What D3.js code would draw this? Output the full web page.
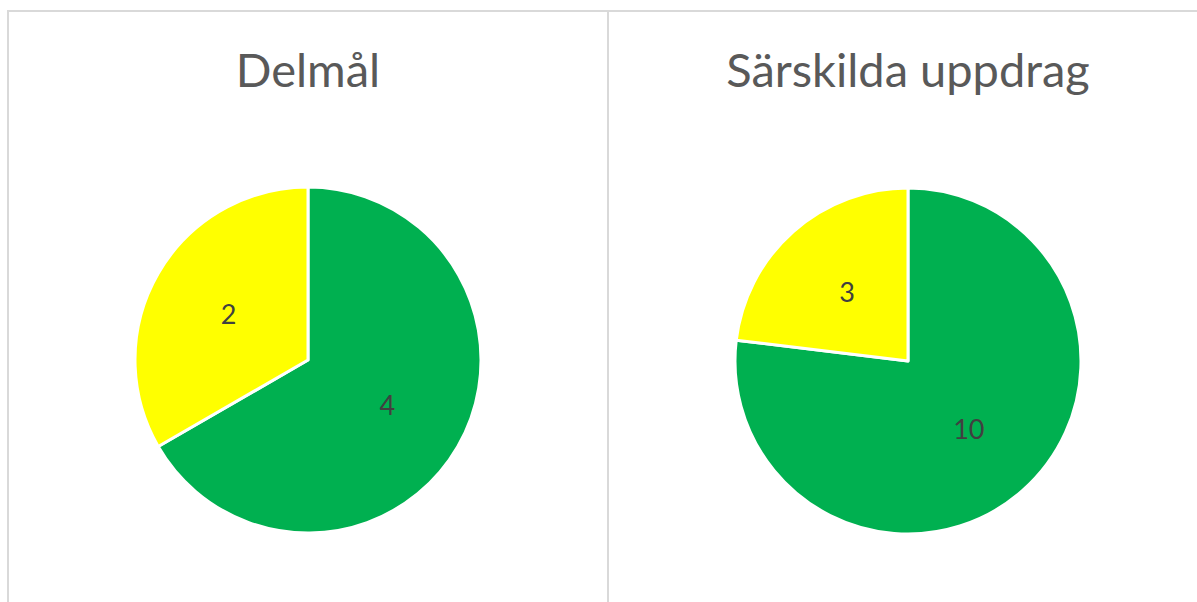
<!DOCTYPE html>
<html>
<head>
<meta charset="utf-8">
<script src="https://cdn.jsdelivr.net/npm/d3@7"></script>
<style>
  body { margin: 0; background: #fff; }
  svg { display: block; }
</style>
</head>
<body>
<script>
// chart data
var titles = ["Delmål", "Särskilda uppdrag"];
var categories = ["Grön", "Gul"];
var delmalValues = [4, 2];
var uppdragValues = [10, 3];
var seriesValues = [delmalValues, uppdragValues];

var width = 1197, height = 602;
var colors = d3.scaleOrdinal().domain(categories).range(["#00B050", "#FFFF00"]);

var svg = d3.select("body").append("svg")
    .attr("width", width)
    .attr("height", height);

// panel frames
var panels = [{x: 8, w: 600}, {x: 608, w: 600}];
svg.selectAll("rect.frame")
    .data(panels)
    .enter().append("rect")
    .attr("class", "frame")
    .attr("x", function(d) { return d.x; })
    .attr("y", 11)
    .attr("width", function(d) { return d.w; })
    .attr("height", 700)
    .attr("fill", "none")
    .attr("stroke", "#d9d9d9")
    .attr("stroke-width", 2);

var radius = 173;
var centers = [[308, 360], [908, 361]];

var pie = d3.pie().sort(null).value(function(d) { return d.value; });
var arc = d3.arc().innerRadius(0).outerRadius(radius);
var labelArc = d3.arc().innerRadius(radius * 0.53).outerRadius(radius * 0.53);

titles.forEach(function(t, i) {
  var g = svg.append("g")
      .attr("transform", "translate(" + centers[i][0] + "," + centers[i][1] + ")");

  svg.append("text")
      .attr("x", centers[i][0])
      .attr("y", 87)
      .attr("text-anchor", "middle")
      .style("font-family", "Lato, 'Open Sans', sans-serif")
      .style("font-size", "47px")
      .attr("fill", "#595959")
      .text(t);

  var data = categories.map(function(c, j) { return {key: c, value: seriesValues[i][j]}; });
  var arcs = pie(data);

  g.selectAll("path")
      .data(arcs)
      .enter().append("path")
      .attr("d", arc)
      .attr("fill", function(d) { return colors(d.data.key); })
      .attr("stroke", "#fff")
      .attr("stroke-width", 3)
      .attr("stroke-linejoin", "round");

  g.selectAll("text")
      .data(arcs)
      .enter().append("text")
      .attr("transform", function(d) { return "translate(" + labelArc.centroid(d) + ")"; })
      .attr("text-anchor", "middle")
      .attr("dy", "0.35em")
      .style("font-family", "Lato, 'Open Sans', sans-serif")
      .style("font-size", "27px")
      .attr("fill", "#404040")
      .text(function(d) { return d.data.value; });
});
</script>
</body>
</html>
